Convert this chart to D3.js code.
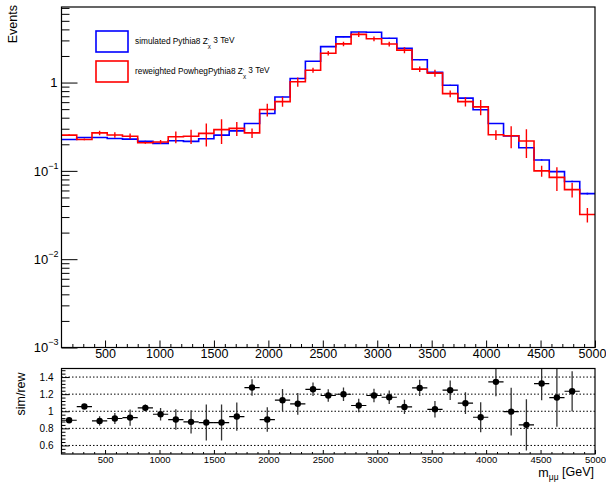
<!DOCTYPE html>
<html>
<head>
<meta charset="utf-8">
<script src="https://cdn.jsdelivr.net/npm/d3@7"></script>
<style>
  body { margin: 0; background: #fff; }
  svg { display: block; }
  text { font-family: "Liberation Sans", Arial, Helvetica, sans-serif; fill: #000; }
</style>
</head>
<body>
<svg id="chart" width="606" height="483"></svg>
<script>
// Dimuon invariant mass binning (GeV)
const binLow = 100, binHigh = 5000, binCount = 35;

// Simulated Pythia8 Z'_chi 3 TeV, events per bin
const simulated = [0.227, 0.239, 0.239, 0.233, 0.229, 0.216, 0.205, 0.219, 0.216, 0.231,
                   0.254, 0.284, 0.344, 0.447, 0.687, 1.11, 1.74, 2.55, 3.29, 3.74,
                   3.71, 3.18, 2.45, 1.81, 1.31, 0.933, 0.666, 0.493, 0.344, 0.249,
                   0.183, 0.133, 0.098, 0.0758, 0.0552];
const simulatedErr = [0.003, 0.003, 0.003, 0.003, 0.003, 0.003, 0.003, 0.003, 0.003, 0.003,
                      0.003, 0.004, 0.004, 0.005, 0.007, 0.011, 0.016, 0.022, 0.027, 0.03,
                      0.03, 0.027, 0.022, 0.017, 0.013, 0.01, 0.008, 0.006, 0.0045, 0.0035,
                      0.0028, 0.0022, 0.0018, 0.0015, 0.0012];

// Reweighted PowhegPythia8 Z'_chi 3 TeV, events per bin
const reweighted = [0.254, 0.227, 0.269, 0.255, 0.247, 0.208, 0.212, 0.243, 0.247, 0.266,
                    0.293, 0.303, 0.269, 0.495, 0.609, 1.02, 1.38, 2.15, 2.74, 3.51,
                    3.13, 2.73, 2.33, 1.42, 1.28, 0.749, 0.609, 0.530, 0.256, 0.250,
                    0.218, 0.100, 0.0845, 0.0614, 0.032];
const reweightedErr = [0.006, 0.005, 0.016, 0.018, 0.018, 0.005, 0.011, 0.037, 0.045, 0.077,
                       0.091, 0.055, 0.033, 0.082, 0.076, 0.122, 0.088, 0.127, 0.16, 0.23,
                       0.185, 0.164, 0.177, 0.10, 0.113, 0.066, 0.072, 0.103, 0.032, 0.070,
                       0.078, 0.014, 0.0255, 0.0114, 0.006];

// sim/rew ratio per bin
const ratio = [0.895, 1.055, 0.887, 0.915, 0.926, 1.040, 0.965, 0.903, 0.876, 0.868,
               0.868, 0.938, 1.277, 0.903, 1.129, 1.087, 1.257, 1.184, 1.199, 1.067,
               1.184, 1.164, 1.051, 1.273, 1.023, 1.246, 1.094, 0.930, 1.344, 0.996,
               0.841, 1.324, 1.160, 1.234, 1.72];
const ratioErr = [0.02, 0.02, 0.055, 0.064, 0.095, 0.04, 0.074, 0.12, 0.135, 0.21,
                  0.21, 0.165, 0.097, 0.144, 0.13, 0.127, 0.078, 0.074, 0.078, 0.078,
                  0.078, 0.08, 0.084, 0.094, 0.097, 0.115, 0.127, 0.175, 0.168, 0.28,
                  0.30, 0.195, 0.34, 0.234, 0.40];

// Axis ticks
const massTicks = [500, 1000, 1500, 2000, 2500, 3000, 3500, 4000, 4500, 5000];
const eventDecades = [1e-3, 1e-2, 1e-1, 1];
const ratioTicks = [0.6, 0.8, 1.0, 1.2, 1.4];

// ---- layout ----
const svg = d3.select("#chart");
const frameL = 61.5, frameR = 595;
const mainTop = 7, mainBottom = 347.5;
const ratTop = 368.5, ratBottom = 454;

const binWidth = (binHigh - binLow) / binCount;
const edges = d3.range(binCount + 1).map(i => binLow + i * binWidth);
const centers = d3.range(binCount).map(i => binLow + (i + 0.5) * binWidth);

const x = d3.scaleLinear().domain([binLow, binHigh]).range([frameL, frameR]);
const y = d3.scaleLog().domain([1e-3, 7.17]).range([mainBottom, mainTop]);
const yr = d3.scaleLinear().domain([0.5, 1.5]).range([ratBottom, ratTop]);

const defs = svg.append("defs");
defs.append("clipPath").attr("id", "clipMain").append("rect")
  .attr("x", frameL).attr("y", mainTop).attr("width", frameR - frameL).attr("height", mainBottom - mainTop);
defs.append("clipPath").attr("id", "clipRatio").append("rect")
  .attr("x", frameL).attr("y", ratTop).attr("width", frameR - frameL).attr("height", ratBottom - ratTop);

function stepPath(values, yScale) {
  let p = `M${x(edges[0])},${yScale(values[0])}`;
  values.forEach((v, i) => {
    if (i > 0) p += `V${yScale(v)}`;
    p += `H${x(edges[i + 1])}`;
  });
  return p;
}

// ---- main panel histograms ----
const main = svg.append("g").attr("clip-path", "url(#clipMain)");

main.append("path").attr("d", stepPath(simulated, y))
  .attr("fill", "none").attr("stroke", "#0000ff").attr("stroke-width", 1.6);
main.append("g").selectAll("line").data(simulated).join("line")
  .attr("x1", (d, i) => x(centers[i])).attr("x2", (d, i) => x(centers[i]))
  .attr("y1", (d, i) => y(d + simulatedErr[i])).attr("y2", (d, i) => y(d - simulatedErr[i]))
  .attr("stroke", "#0000ff").attr("stroke-width", 1.6);

main.append("path").attr("d", stepPath(reweighted, y))
  .attr("fill", "none").attr("stroke", "#ff0000").attr("stroke-width", 1.6);
main.append("g").selectAll("line").data(reweighted).join("line")
  .attr("x1", (d, i) => x(centers[i])).attr("x2", (d, i) => x(centers[i]))
  .attr("y1", (d, i) => y(d + reweightedErr[i])).attr("y2", (d, i) => y(Math.max(d - reweightedErr[i], 1e-3)))
  .attr("stroke", "#ff0000").attr("stroke-width", 1.4);

// ---- main panel axes ----
const minorDecade = [];
[1e-3, 1e-2, 1e-1, 1].forEach(dec => {
  for (let k = 2; k <= 9; k++) if (dec * k < 7.17) minorDecade.push(dec * k);
});

function clean(g) { g.select(".domain").remove(); g.selectAll("line").attr("stroke", "#000"); }

svg.append("g").attr("transform", `translate(${frameL},0)`)
  .call(d3.axisLeft(y).tickValues(eventDecades).tickSize(-16).tickFormat(""))
  .call(clean);
svg.append("g").attr("transform", `translate(${frameL},0)`)
  .call(d3.axisLeft(y).tickValues(minorDecade).tickSize(-8).tickFormat(""))
  .call(clean);

// decade labels (1, 10^-1, ...)
const decLabels = svg.append("g").attr("font-size", 13).attr("text-anchor", "end");
eventDecades.forEach(v => {
  const exp = Math.round(Math.log10(v));
  const t = decLabels.append("text").attr("x", frameL - 4).attr("y", y(v)).attr("dy", "0.36em");
  if (exp === 0) {
    t.text("1");
  } else {
    t.attr("x", frameL - 3);
    t.append("tspan").text("10");
    t.append("tspan").attr("font-size", 9).attr("dy", "-0.75em").text("\u2212" + (-exp));
  }
});

const massMinor = d3.range(200, 5000, 100).filter(v => v % 500 !== 0);

svg.append("g").attr("transform", `translate(0,${mainBottom})`)
  .call(d3.axisBottom(x).tickValues(massTicks).tickSize(-7).tickPadding(2).tickFormat(d3.format("d")))
  .call(clean)
  .call(g => g.selectAll("text").attr("font-size", 12.5).attr("font-family", null))
  // keep the last label inside the page edge
  .call(g => g.selectAll(".tick").filter(d => d === 5000).select("text").attr("dx", "-3"));
svg.append("g").attr("transform", `translate(0,${mainBottom})`)
  .call(d3.axisBottom(x).tickValues(massMinor).tickSize(-3.5).tickFormat(""))
  .call(clean);

// frame
svg.append("rect").attr("x", frameL).attr("y", mainTop)
  .attr("width", frameR - frameL).attr("height", mainBottom - mainTop)
  .attr("fill", "none").attr("stroke", "#000").attr("stroke-width", 1.2);

// y title
svg.append("text").attr("transform", `translate(17,5) rotate(-90)`)
  .attr("text-anchor", "end").attr("font-size", 12.5).text("Events");

// ---- legend ----
const legend = svg.append("g");
const legendItems = [
  { color: "#0000ff", label: "simulated Pythia8 Z", y0: 31 },
  { color: "#ff0000", label: "reweighted PowhegPythia8 Z", y0: 61 }
];
legendItems.forEach(it => {
  legend.append("rect").attr("x", 96).attr("y", it.y0).attr("width", 32).attr("height", 21)
    .attr("fill", "none").attr("stroke", it.color).attr("stroke-width", 1.6);
  const t = legend.append("text").attr("x", 135).attr("y", it.y0 + 10.5).attr("dy", "0.35em")
    .attr("font-size", 8.3);
  t.append("tspan").text(it.label);
  t.append("tspan").attr("dy", "-0.3em").attr("font-size", 6).text("'");
  t.append("tspan").attr("dy", "0.9em").attr("dx", "-0.2em").attr("font-size", 6).text("\u03c7");
  t.append("tspan").attr("dy", "-0.6em").text(" 3 TeV");
});

// ---- ratio panel ----
const ratio_g = svg.append("g");
ratio_g.append("g").selectAll("line").data(ratioTicks).join("line")
  .attr("x1", frameL).attr("x2", frameR)
  .attr("y1", d => yr(d)).attr("y2", d => yr(d))
  .attr("stroke", "#000").attr("stroke-width", 1).attr("stroke-dasharray", "1.5,2");

const pts = ratio.map((v, i) => ({ v, e: ratioErr[i], c: centers[i], lo: edges[i], hi: edges[i + 1] }))
  .filter(d => d.v >= 0.5 && d.v <= 1.5);

const rp = svg.append("g").attr("clip-path", "url(#clipRatio)");
rp.selectAll("line.ver").data(pts).join("line").attr("class", "ver")
  .attr("x1", d => x(d.c)).attr("x2", d => x(d.c))
  .attr("y1", d => yr(d.v + d.e)).attr("y2", d => yr(d.v - d.e))
  .attr("stroke", "#333").attr("stroke-width", 1.3);
rp.selectAll("line.hor").data(pts).join("line").attr("class", "hor")
  .attr("x1", d => x(d.lo)).attr("x2", d => x(d.hi))
  .attr("y1", d => yr(d.v)).attr("y2", d => yr(d.v))
  .attr("stroke", "#000").attr("stroke-width", 1.2);
rp.selectAll("circle").data(pts).join("circle")
  .attr("cx", d => x(d.c)).attr("cy", d => yr(d.v)).attr("r", 3.2).attr("fill", "#000");

const ratioMinor = d3.range(13, 38).map(k => k * 0.04).filter(v => !ratioTicks.some(t => Math.abs(t - v) < 1e-6));

svg.append("g").attr("transform", `translate(${frameL},0)`)
  .call(d3.axisLeft(yr).tickValues(ratioTicks).tickSize(-8).tickPadding(8).tickFormat(d => d === 1 ? "1" : d3.format(".1f")(d)))
  .call(clean)
  .call(g => g.selectAll("text").attr("font-size", 10).attr("font-family", null));
svg.append("g").attr("transform", `translate(${frameL},0)`)
  .call(d3.axisLeft(yr).tickValues(ratioMinor).tickSize(-4).tickFormat(""))
  .call(clean);

svg.append("g").attr("transform", `translate(0,${ratBottom})`)
  .call(d3.axisBottom(x).tickValues(massTicks).tickSize(-4).tickPadding(2).tickFormat(d3.format("d")))
  .call(clean)
  .call(g => g.selectAll("text").attr("font-size", 9.5).attr("font-family", null));
svg.append("g").attr("transform", `translate(0,${ratBottom})`)
  .call(d3.axisBottom(x).tickValues(massMinor).tickSize(-2).tickFormat(""))
  .call(clean);

svg.append("rect").attr("x", frameL).attr("y", ratTop)
  .attr("width", frameR - frameL).attr("height", ratBottom - ratTop)
  .attr("fill", "none").attr("stroke", "#000").attr("stroke-width", 1.2);

// ratio y title
svg.append("text").attr("transform", `translate(25,394) rotate(-90)`)
  .attr("text-anchor", "middle").attr("font-size", 12.5).text("sim/rew");

// x title: m_{μμ} [GeV]
const xt = svg.append("text").attr("x", 594).attr("y", 477).attr("text-anchor", "end").attr("font-size", 12.5);
xt.append("tspan").text("m");
xt.append("tspan").attr("dy", "0.3em").attr("font-size", 8.5).text("\u03bc\u03bc");
xt.append("tspan").attr("dy", "-0.3em").text(" [GeV]");
</script>
</body>
</html>
